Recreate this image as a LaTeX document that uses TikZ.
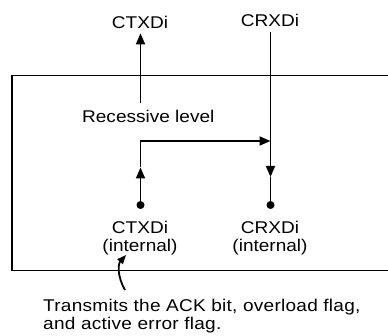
\documentclass[tikz,border=0pt]{standalone}
\usepackage{fontspec}
\setmainfont[FakeStretch=1.12]{Liberation Sans}
\usetikzlibrary{arrows.meta}
\begin{document}
\begin{tikzpicture}[x=1pt,y=-1pt,
  lbl/.style={font=\fontsize{17}{18}\selectfont, inner sep=0pt, align=center},
  ln/.style={line width=1.8pt},
  arr/.style={ln, -{Triangle[length=11pt,width=9pt]}},
  dot/.style={circle, fill=black, inner sep=0pt, minimum size=8pt}]
\useasboundingbox (0,0) rectangle (388,336);
% box (open to the right)
\draw[ln] (388,75.5) -- (12,75.5) -- (12,270.5) -- (388,270.5);
% labels
\node[lbl, anchor=base] (ctx) at (140,29) {CTXDi};
\node[lbl, anchor=base] (crx) at (270,27) {CRXDi};
\node[lbl, anchor=base] (rec) at (148.3,122.5) {Recessive level};
\node[lbl] (ctxi) at (140,238.6) {CTXDi\\(internal)};
\node[lbl] (crxi) at (270,238.6) {CRXDi\\(internal)};
\node[lbl, align=left, anchor=west, font=\fontsize{17}{18}\selectfont\addfontfeature{LetterSpace=1.5}] (note) at (43,316.6) {Transmits the ACK bit, overload flag,\\and active error flag.};
% dots
\node[dot] (d1) at (140.5,205) {};
\node[dot] (d2) at (270.5,205) {};
\coordinate (s1) at (140.5,103);
\coordinate (a1) at (140.5,167.5);
\coordinate (j) at (270.5,141);
\coordinate (a2) at (270.5,177);
\coordinate (cs) at (125,290);
\coordinate (ce) at (126,255);
% connectors
\draw[arr, shorten >=4pt] (s1) -- (ctx.south -| s1);
\draw[arr] (d1) -- (a1);
\draw[arr] (a1) |- (j);
\draw[arr, shorten <=4.5pt] (crx.south -| j) -- (a2);
\draw[ln] (a2) -- (d2);
\draw[ln, -{Triangle[length=9pt,width=7pt]}] (cs) .. controls (117,276) and (118,264) .. (ce);
\end{tikzpicture}
\end{document}
